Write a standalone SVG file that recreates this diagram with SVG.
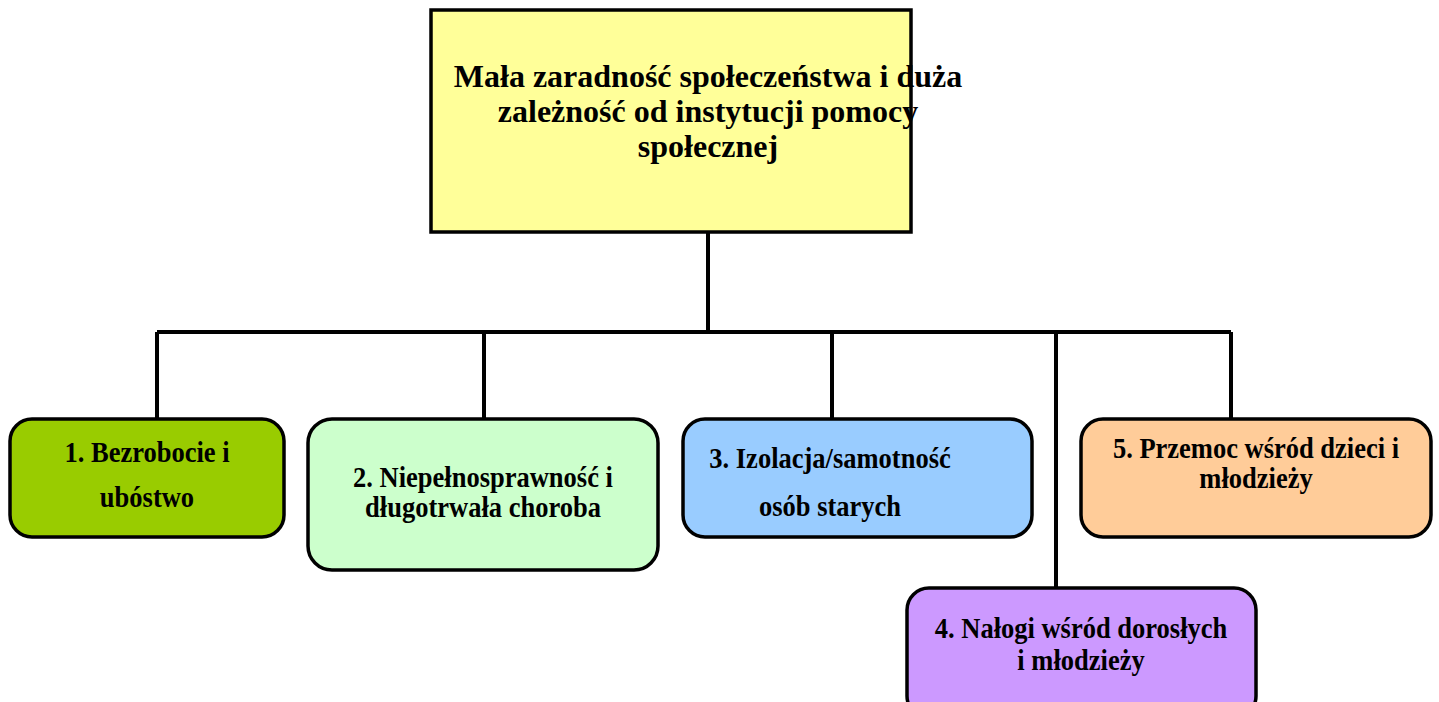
<svg xmlns="http://www.w3.org/2000/svg" width="1439" height="702" viewBox="0 0 1439 702">
<style>
.box{stroke:#000;stroke-width:3.5}
.t{font-family:"Liberation Serif","Times New Roman",serif;font-weight:bold;fill:#000;text-anchor:middle}
.top{font-size:32px}
.lbl{font-size:26.5px}
.conn{fill:none;stroke:#000;stroke-width:4}
</style>
<rect width="1439" height="702" fill="#fff"/>
<g id="connectors">
<path class="conn" d="M708 233V332M157 332H1231M157 332V418M484 332V418M832 332V418M1056 332V587M1231 332V418"/>
</g>
<g id="root">
<rect class="box" x="431" y="10" width="480" height="222" fill="#FFFF99"/>
<text class="t top" x="708" y="87">Mała zaradność społeczeństwa i duża</text>
<text class="t top" x="708" y="122">zależność od instytucji pomocy</text>
<text class="t top" x="708" y="157">społecznej</text>
</g>
<g id="n1">
<rect class="box" x="10" y="419" width="274" height="118" rx="22" fill="#99CC00"/>
<text class="t lbl" transform="translate(147 462) scale(1 1.08)">1. Bezrobocie i</text>
<text class="t lbl" transform="translate(147 507) scale(1 1.08)">ubóstwo</text>
</g>
<g id="n2">
<rect class="box" x="308" y="419" width="350" height="151" rx="24" fill="#CCFFCC"/>
<text class="t lbl" transform="translate(483 487) scale(1 1.08)">2. Niepełnosprawność i</text>
<text class="t lbl" transform="translate(483 517) scale(1 1.08)">długotrwała choroba</text>
</g>
<g id="n3">
<rect class="box" x="683" y="419" width="349" height="118" rx="22" fill="#99CCFF"/>
<text class="t lbl" transform="translate(830 468) scale(1 1.08)">3. Izolacja/samotność</text>
<text class="t lbl" transform="translate(830 516) scale(1 1.08)">osób starych</text>
</g>
<g id="n4">
<rect class="box" x="907" y="588" width="349" height="130" rx="22" fill="#CC99FF"/>
<text class="t lbl" transform="translate(1081 638) scale(1 1.08)">4. Nałogi wśród dorosłych</text>
<text class="t lbl" transform="translate(1081 670) scale(1 1.08)">i młodzieży</text>
</g>
<g id="n5">
<rect class="box" x="1081" y="419" width="350" height="118" rx="22" fill="#FFCC99"/>
<text class="t lbl" transform="translate(1256 458) scale(1 1.08)">5. Przemoc wśród dzieci i</text>
<text class="t lbl" transform="translate(1256 488) scale(1 1.08)">młodzieży</text>
</g>
</svg>
